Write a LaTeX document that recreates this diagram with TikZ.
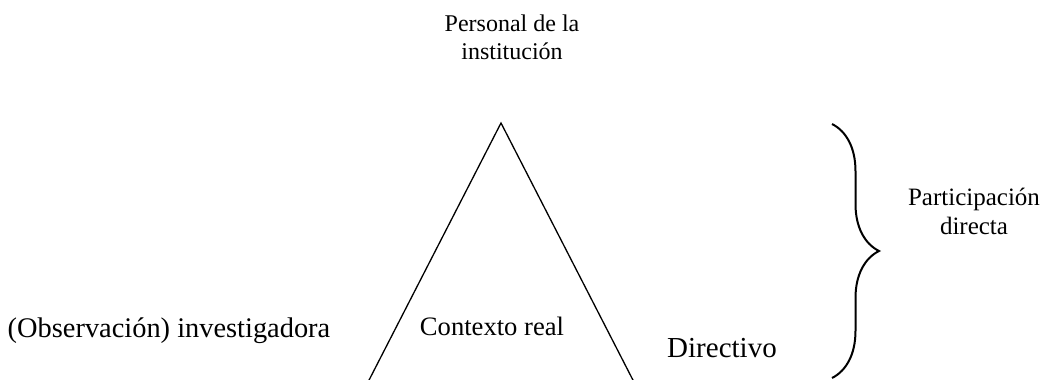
\documentclass[tikz,border=0pt]{standalone}
\usepackage{fontspec}
\setmainfont{Liberation Serif}
\usetikzlibrary{decorations.pathreplacing}

\begin{document}
\begin{tikzpicture}[x=0.5pt,y=-0.5pt,line width=0.65pt,
    lbl/.style={inner sep=0pt,anchor=base,align=center}]
           \useasboundingbox (0,0) rectangle (1046,380);
           \clip (0,0) rectangle (1046,380);
           \coordinate (apex) at (501,123);
           \coordinate (bl) at (366,386);
           \coordinate (br) at (636,386);
           \draw (bl) -- (apex) -- (br);
           \node at (512,60) [lbl,anchor=south,font=\fontsize{12}{13.75}\selectfont] (staff) {Personal de la\\institución};
           \node at (974,235) [lbl,anchor=south,font=\fontsize{12.5}{14.2}\selectfont] (part) {Participación\\directa};
           \node at (169,337) [lbl,font=\fontsize{14.2}{17}\selectfont] (obs) {(Observación) investigadora};
           \node at (492,335) [lbl,font=\fontsize{13.3}{16}\selectfont] (ctx) {Contexto real};
           \node at (722,357) [lbl,font=\fontsize{14.5}{17}\selectfont] (dir) {Directivo};
           \coordinate (bt) at (832,124);
           \coordinate (bb) at (832,378);
           \draw[line width=1pt,decorate,decoration={brace,amplitude=23.5pt}] (bt) -- (bb);
        \end{tikzpicture}
\end{document}
